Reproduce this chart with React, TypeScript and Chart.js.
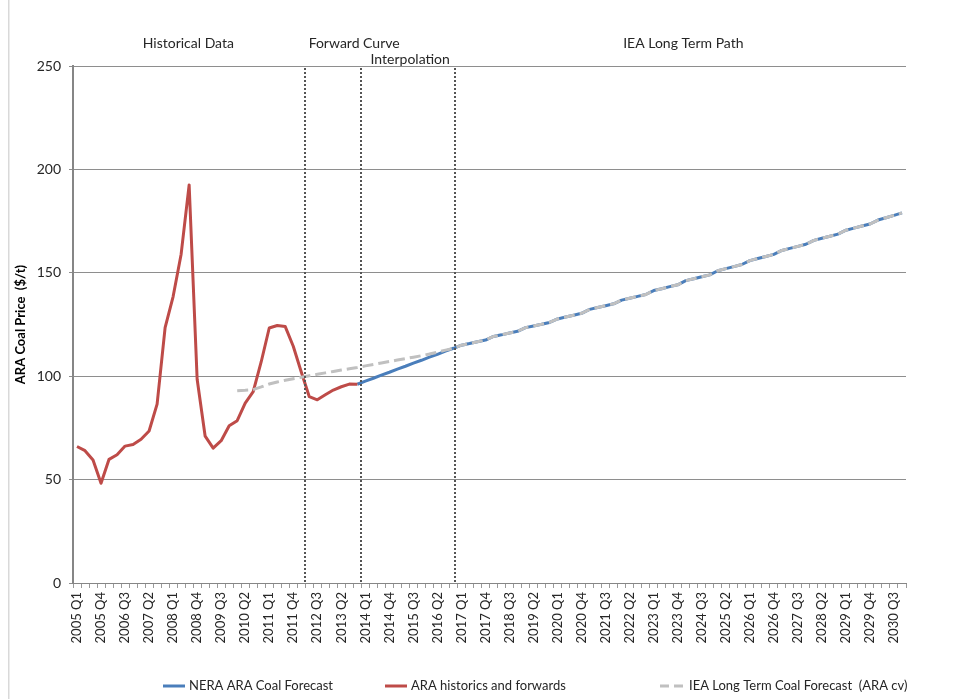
import React, { useEffect, useRef } from 'react';
import { Chart, registerables } from 'chart.js';

Chart.register(...registerables);

// ---- categories ----
const years = [2005, 2006, 2007, 2008, 2009, 2010, 2011, 2012, 2013, 2014, 2015, 2016, 2017, 2018, 2019, 2020, 2021, 2022, 2023, 2024, 2025, 2026, 2027, 2028, 2029, 2030];
const quarterNames = ['Q1', 'Q2', 'Q3', 'Q4'];
const categories = years.flatMap((y) => quarterNames.map((q) => `${y} ${q}`));
const labelEvery = 3;

// ---- series ----
const araHistoricsStart = '2005 Q1';
const araHistorics = [66, 64, 59.5, 48.2, 59.8, 62, 66.2, 67, 69.5, 73.5, 86.5, 123.5, 138.5, 159, 192.5, 98.5, 71, 65.2, 68.8, 76, 78.5, 87, 92.5, 107, 123.3, 124.5, 124, 114.5, 102, 90.1, 88.6, 91, 93.3, 94.9, 96.2, 96.1];

const neraStart = '2013 Q4';
const neraForecast = [
  96.1, 97.6, 99.0, 100.5, 101.9, 103.4, 104.8, 106.3, 107.7, 109.2, 110.6, 112.1, 113.5,
  115.0, 115.8, 116.7, 117.5,
  119.2, 120.0, 120.9, 121.7,
  123.5, 124.3, 125.1, 126.0,
  127.7, 128.6, 129.5, 130.4,
  132.3, 133.2, 134.1, 135.0,
  136.8, 137.7, 138.6, 139.5,
  141.4, 142.3, 143.3, 144.2,
  146.2, 147.1, 148.1, 149.0,
  151.0, 152.0, 153.0, 154.0,
  155.9, 156.9, 157.9, 158.9,
  160.8, 161.8, 162.8, 163.8,
  165.7, 166.7, 167.7, 168.7,
  170.6, 171.6, 172.6, 173.6,
  175.5, 176.6, 177.8, 179.0,
];

const ieaStart = '2010 Q1';
const ieaForecast = [
  93.0, 93.2, 93.5, 94.8, 96.2, 97.2, 98.0, 98.8, 99.5, 100.2, 100.9, 101.6, 102.3, 103.0,
  103.6, 104.2, 105.0, 105.7, 106.4, 107.1, 107.8, 108.5, 109.2, 109.9, 110.7, 111.6, 112.6, 113.5,
  115.0, 115.8, 116.7, 117.5,
  119.2, 120.0, 120.9, 121.7,
  123.5, 124.3, 125.1, 126.0,
  127.7, 128.6, 129.5, 130.4,
  132.3, 133.2, 134.1, 135.0,
  136.8, 137.7, 138.6, 139.5,
  141.4, 142.3, 143.3, 144.2,
  146.2, 147.1, 148.1, 149.0,
  151.0, 152.0, 153.0, 154.0,
  155.9, 156.9, 157.9, 158.9,
  160.8, 161.8, 162.8, 163.8,
  165.7, 166.7, 167.7, 168.7,
  170.6, 171.6, 172.6, 173.6,
  175.5, 176.6, 177.8, 179.0,
];

const seriesNames = ['NERA ARA Coal Forecast', 'ARA historics and forwards', 'IEA Long Term Coal Forecast  (ARA cv)'];
const seriesColors = ['#4a7ebb', '#be4b48', '#c0c0c0'];

// ---- axis ----
const yMin = 0;
const yMax = 250;
const yStep = 50;
const yTitle = 'ARA Coal Price  ($/t)';

// ---- annotations (category-index positions) ----
const periodDividers = [28.5, 35.5, 47.2];
const periodTexts = ['Historical Data', 'Forward Curve', 'Interpolation', 'IEA Long Term Path'];
const periodTextAt = [13.9, 34.6, 41.6, 75.7];
const periodTextRow = [0, 0, 1, 0];

// ---- layout constants ----
const legendX = [163, 385, 660];
const legendY = 686;

const FONT = 'Lato, "Open Sans", "DejaVu Sans", sans-serif';

function pad(startLabel: string, vals: number[]) {
  const s = categories.indexOf(startLabel);
  return categories.map((_, i) => (i >= s && i < s + vals.length ? vals[i - s] : null));
}

const overlayPlugin = {
  id: 'overlay',
  beforeDraw(chart: any) {
    const { ctx } = chart;
    ctx.save();
    ctx.fillStyle = '#d9d9d9';
    ctx.fillRect(8, 0, 1.5, chart.height);
    ctx.restore();
  },
  afterDatasetsDraw(chart: any) {
    const { ctx, chartArea } = chart;
    const xs = chart.scales.x;
    ctx.save();
    ctx.strokeStyle = '#555555';
    ctx.lineWidth = 2;
    ctx.setLineDash([2, 2]);
    periodDividers.forEach((v) => {
      const x = Math.round(xs.getPixelForValue(v));
      ctx.beginPath();
      ctx.moveTo(x, chartArea.top + 2);
      ctx.lineTo(x, chartArea.bottom);
      ctx.stroke();
    });
    ctx.restore();
  },
  afterDraw(chart: any) {
    const { ctx, chartArea } = chart;
    const xs = chart.scales.x;
    ctx.save();
    ctx.font = `14px ${FONT}`;
    ctx.fillStyle = '#262626';
    ctx.textAlign = 'center';
    ctx.textBaseline = 'middle';
    periodTexts.forEach((t, i) => {
      const x = xs.getPixelForValue(periodTextAt[i]);
      const y = chartArea.top - (periodTextRow[i] === 0 ? 23 : 7);
      ctx.fillText(t, x, y);
    });
    // legend
    [0, 1, 2].forEach((i) => {
      const ds = chart.data.datasets[i];
      const x0 = legendX[i];
      const dashed = ds.borderDash && ds.borderDash.length;
      const len = dashed ? 25 : 22;
      ctx.save();
      ctx.strokeStyle = ds.borderColor;
      ctx.lineWidth = 3;
      ctx.setLineDash(dashed ? [9, 5] : []);
      ctx.beginPath();
      ctx.moveTo(x0, legendY);
      ctx.lineTo(x0 + len, legendY);
      ctx.stroke();
      ctx.restore();
      ctx.font = `13px ${FONT}`;
      ctx.fillStyle = '#262626';
      ctx.textAlign = 'left';
      ctx.textBaseline = 'middle';
      ctx.fillText(ds.label, x0 + len + 4, legendY);
    });
    ctx.restore();
  },
};

export default function App() {
  const ref = useRef<HTMLCanvasElement | null>(null);
  useEffect(() => {
    if (!ref.current) return;
    const chart = new Chart(ref.current, {
      type: 'line',
      data: {
        labels: categories,
        datasets: [
          {
            label: seriesNames[0],
            data: pad(neraStart, neraForecast),
            borderColor: seriesColors[0],
            backgroundColor: seriesColors[0],
            borderWidth: 3,
            pointRadius: 0,
            tension: 0,
            order: 2,
            borderJoinStyle: 'round',
          },
          {
            label: seriesNames[1],
            data: pad(araHistoricsStart, araHistorics),
            borderColor: seriesColors[1],
            backgroundColor: seriesColors[1],
            borderWidth: 3,
            pointRadius: 0,
            tension: 0,
            order: 1,
            borderJoinStyle: 'round',
          },
          {
            label: seriesNames[2],
            data: pad(ieaStart, ieaForecast),
            borderColor: seriesColors[2],
            backgroundColor: seriesColors[2],
            borderWidth: 3,
            borderDash: [11, 5],
            pointRadius: 0,
            tension: 0,
            order: 0,
          },
        ],
      },
      options: {
        animation: false,
        responsive: false,
        maintainAspectRatio: false,
        layout: { padding: { left: 8, right: 49, top: 66, bottom: 0 } },
        plugins: {
          legend: { display: false },
          tooltip: { enabled: false },
        },
        scales: {
          x: {
            offset: true,
            afterFit: (s: any) => {
              s.height = 116;
            },
            grid: {
              offset: true,
              drawOnChartArea: false,
              drawTicks: true,
              tickLength: 5,
              color: '#9a9a9a',
            },
            border: { color: '#868686', width: 1 },
            ticks: {
              autoSkip: false,
              minRotation: 90,
              maxRotation: 90,
              padding: 4,
              color: '#262626',
              font: { family: FONT, size: 13 },
              callback: (_v: any, i: number) => (i % labelEvery === 0 ? categories[i] : ''),
            },
          },
          y: {
            min: yMin,
            max: yMax,
            afterFit: (s: any) => {
              s.width = 65;
            },
            grid: { color: '#8e8e8e', tickLength: 4, lineWidth: 1 },
            border: { color: '#868686', width: 2 },
            ticks: {
              stepSize: yStep,
              padding: 8,
              color: '#262626',
              font: { family: FONT, size: 14 },
            },
            title: {
              display: true,
              text: yTitle,
              color: '#000',
              font: { family: FONT, size: 13, weight: 'bold' },
              padding: { top: 5, bottom: 0 },
            },
          },
        },
      },
      plugins: [overlayPlugin],
    } as any);
    return () => chart.destroy();
  }, []);
  return (
    <div style={{ position: 'fixed', left: 0, top: 0, width: 955, height: 699, background: '#fff' }}>
      <canvas ref={ref} width={955} height={699} style={{ display: 'block', width: 955, height: 699 }} />
    </div>
  );
}
